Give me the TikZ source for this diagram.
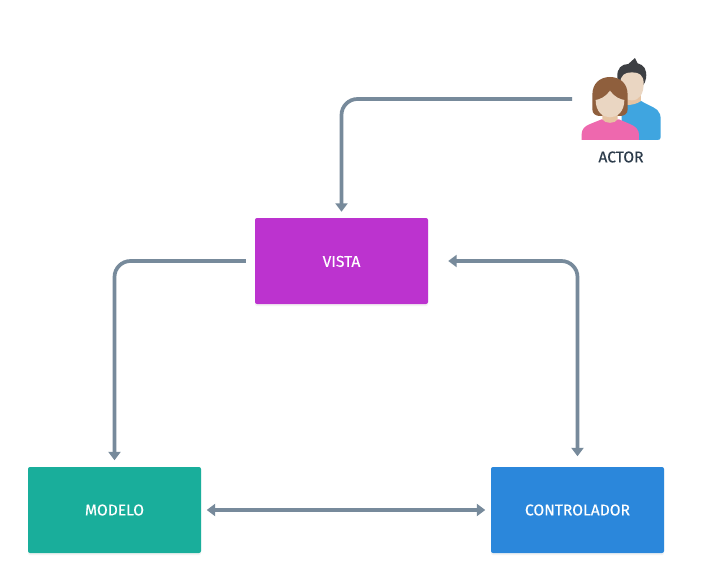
\documentclass[tikz,border=0pt]{standalone}
\usepackage{fontspec}
\setmainfont{Fira Sans}
\newfontfamily\labelfont[FakeBold=0.25]{Fira Sans}
\usetikzlibrary{arrows.meta}
\definecolor{linkc}{HTML}{778A9B}
\definecolor{vistac}{HTML}{BC33CF}
\definecolor{modeloc}{HTML}{19AE9B}
\definecolor{controlc}{HTML}{2B87DB}
\definecolor{bluec}{HTML}{3FA5E0}
\definecolor{pinkc}{HTML}{EE68AE}
\definecolor{skinc}{HTML}{EAD6C2}
\definecolor{neckc}{HTML}{E6C3A2}
\definecolor{hairw}{HTML}{8F5F3D}
\definecolor{hairm}{HTML}{3D3F43}
\tikzset{
  blockbox/.style={draw=none,rounded corners=2pt,minimum width=173pt,minimum height=86pt,inner sep=0pt,
    text=white,font=\labelfont\fontsize{15.6}{16}\selectfont,
    preaction={fill=black!25,opacity=.18,transform canvas={yshift=-2pt}}},
  linkline/.style={draw=linkc,line width=3.7pt,rounded corners=16pt,
    arrows={-Triangle[width=12pt,length=8.5pt]}},
  twoway/.style={arrows={Triangle[width=12pt,length=8.5pt]-Triangle[width=12pt,length=8.5pt]}}
}
\begin{document}
\begin{tikzpicture}[x=1pt,y=-1pt]
\useasboundingbox[fill=white] (0,0) rectangle (705,584);
\node[blockbox,fill=vistac,text depth=0pt] (vista) at (341.5,261) {\raisebox{-0.7pt}{VISTA}};
\node[blockbox,fill=modeloc] (modelo) at (114.5,510) {MODELO};
\node[blockbox,fill=controlc] (control) at (577.5,510) {CONTROLADOR};
\coordinate (actorend) at (572,99);
\node[text={rgb,255:red,45;green,60;blue,75},font=\labelfont\fontsize{15.6}{16}\selectfont,inner sep=0pt] (actor) at (621,157) {ACTOR};
\begin{scope}[shift={(560,40)},x=0.3333pt,y=-0.3333pt]
  % man
  \fill[bluec] (185,300) -- (185,205) -- (205,190) -- (242,182) .. controls (262,195) and (280,200) .. (292,210) .. controls (300,218) and (302,226) .. (302,240) -- (302,292) .. controls (302,298) and (298,300) .. (292,300) -- cycle;
  \fill[neckc] (195,165) -- (243,165) -- (243,183) .. controls (230,192) and (215,195) .. (200,195) -- cycle;
  \fill[hairm] (172,112) .. controls (170,85) and (185,72) .. (205,72) -- (225,54) -- (233,70) .. controls (252,74) and (262,90) .. (258,115) .. controls (256,125) and (254,130) .. (250,135) -- (180,135) .. controls (176,128) and (173,120) .. (172,112) -- cycle;
  \fill[skinc] (181,130) .. controls (181,105) and (195,97) .. (216,97) .. controls (237,97) and (251,105) .. (251,130) .. controls (251,162) and (238,181) .. (216,181) .. controls (194,181) and (181,162) .. (181,130) -- cycle;
  % woman
  \fill[hairw] (97,165) .. controls (97,130) and (120,111) .. (150,111) .. controls (180,111) and (203,130) .. (203,165) -- (203,208) .. controls (203,222) and (192,228) .. (180,228) -- (120,228) .. controls (108,228) and (97,222) .. (97,208) -- cycle;
  \fill[pinkc] (65,300) -- (65,282) .. controls (65,268) and (75,258) .. (88,253) -- (125,238) -- (177,238) -- (212,253) .. controls (228,260) and (237,270) .. (237,285) -- (237,300) -- cycle;
  \fill[neckc] (127,215) -- (173,215) -- (173,238) .. controls (165,252) and (135,252) .. (127,238) -- cycle;
  \fill[skinc] (107,180) .. controls (120,178) and (138,170) .. (150,152) .. controls (162,170) and (180,178) .. (193,180) .. controls (193,215) and (172,232) .. (150,232) .. controls (128,232) and (107,215) .. (107,180) -- cycle;
\end{scope}
\draw[linkline,shorten >=6pt] (actorend) -| (vista.north);
\draw[linkline,shorten <=9pt,shorten >=6.5pt] (vista.west) -| (modelo.north);
\draw[linkline,twoway,shorten <=20pt,shorten >=10.5pt] (vista.east) -| (control.north);
\draw[linkline,twoway,shorten <=5.5pt,shorten >=5.5pt] (modelo.east) -- (control.west);
\end{tikzpicture}
\end{document}
